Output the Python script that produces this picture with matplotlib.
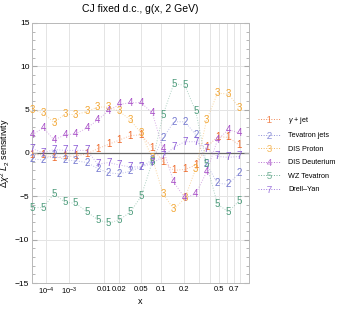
import numpy as np
import matplotlib
matplotlib.use('Agg')
import matplotlib.pyplot as plt
from matplotlib.lines import Line2D

plt.rcParams['font.family'] = ['Liberation Sans', 'DejaVu Sans']
plt.rcParams['mathtext.fontset'] = 'custom'
plt.rcParams['mathtext.rm'] = 'Liberation Sans'
plt.rcParams['mathtext.it'] = 'Liberation Sans:italic'

# x grid of the sensitivity points
x_pts = [1.05e-5, 6.6e-5, 2.5e-4, 7.3e-4, 1.7e-3, 3.7e-3, 7.0e-3, 0.0124, 0.0206, 0.0329,
         0.050, 0.075, 0.107, 0.150, 0.207, 0.279, 0.369, 0.482, 0.621, 0.79]

gamma_jet = [-0.2, -0.2, -0.6, -0.4, -0.35, -0.1, 0.5, 1.0, 1.5, 2.0,
             2.1, 0.6, -1.0, -2.0, -1.9, -1.4, 0.65, 1.9, 1.8, 0.9]
tev_jets = [-0.7, -0.8, -0.2, -0.8, -0.9, -1.1, -1.8, -2.3, -2.4, -2.1,
            -1.6, -0.8, 1.7, 3.6, 3.6, 2.1, -1.3, -3.5, -3.6, -2.3]
dis_proton = [5.0, 4.6, 3.5, 4.5, 4.4, 4.8, 5.3, 5.3, 4.8, 3.8,
              2.3, -0.6, -4.7, -6.5, -5.2, -1.8, 3.8, 6.9, 6.8, 5.2]
dis_deut = [2.1, 2.9, 1.5, 2.1, 2.2, 2.9, 3.8, 4.9, 5.6, 5.8,
            5.8, 4.6, 0.5, -3.4, -5.2, -4.7, -2.2, 1.5, 2.7, 2.3]
wz_tev = [-6.3, -6.3, -4.7, -5.7, -5.8, -6.8, -7.7, -8.1, -7.7, -6.8,
          -5.0, -1.0, 4.4, 8.0, 7.8, 4.8, -1.3, -5.9, -6.8, -5.5]
drell_yan = [0.5, 0.0, 0.4, 0.3, 0.3, 0.3, -1.3, -1.1, -1.4, -1.6,
             -1.6, -1.2, -0.4, 0.65, 1.3, 1.3, 0.5, -0.4, -0.5, -0.4]

series = [('1', gamma_jet, '$\\gamma$ + jet', '#ee6a2a'),
          ('2', tev_jets, 'Tevatron jets', '#7276cf'),
          ('3', dis_proton, 'DIS Proton', '#f2a531'),
          ('4', dis_deut, 'DIS Deuterium', '#a64bc6'),
          ('5', wz_tev, 'WZ Tevatron', '#4e9c7c'),
          ('7', drell_yan, 'Drell\u2013Yan', '#8a5ad6')]

x_ticks = [1e-4, 1e-3, 0.01, 0.02, 0.05, 0.1, 0.2, 0.5, 0.7]
x_tick_labels = ['$10^{-4}$', '$10^{-3}$', '0.01', '0.02', '0.05', '0.1', '0.2', '0.5', '0.7']
x_grid = [1e-4, 1e-3, 0.01, 0.02, 0.05, 0.1, 0.2, 0.3, 0.4, 0.5, 0.6, 0.7, 0.8]

fig = plt.figure(figsize=(3.42, 3.10), dpi=100)
ax = fig.add_axes([0.094, 0.087, 0.634, 0.839])

ax.set_xscale('function', functions=(lambda v: np.clip(v, 0, None) ** 0.2,
                                     lambda v: np.clip(v, 0, None) ** 5))
ax.set_xlim(1e-5, 0.97)
ax.set_ylim(-15, 15)

for xv in x_grid:
    ax.axvline(xv, color='#e4e4e4', lw=0.7, zorder=0)
for yv in [-10, -5, 5, 10]:
    ax.axhline(yv, color='#e4e4e4', lw=0.7, zorder=0)
ax.axhline(0, color='#666666', lw=0.9, zorder=1)

handles = []
for num, vals, label, col in series:
    ax.plot(x_pts, vals, ls=':', lw=0.7, color=col, alpha=0.45, zorder=2)
    for xv, yv in zip(x_pts, vals):
        ax.text(xv, yv, num, color=col, fontsize=7, ha='center', va='center', zorder=3)
    handles.append(Line2D([], [], ls=':', lw=0.7, color=col, alpha=0.8,
                          marker='$\\mathrm{%s}$' % num, markersize=5,
                          markeredgewidth=0, markerfacecolor=col))

ax.set_xticks(x_ticks)
ax.set_xticklabels(x_tick_labels)
ax.xaxis.set_minor_locator(matplotlib.ticker.NullLocator())
ax.tick_params(axis='x', length=0, labelsize=5.5, pad=2)
ax.set_yticks([-15, -10, -5, 0, 5, 10, 15])
ax.set_yticks(np.arange(-15, 16, 1), minor=True)
ax.tick_params(axis='y', which='both', direction='in', right=True, labelsize=6,
               color='#aaaaaa', pad=2)
ax.tick_params(axis='y', which='major', length=3.5)
ax.tick_params(axis='y', which='minor', length=2)
for s in ax.spines.values():
    s.set_color('#b8b8b8')
    s.set_linewidth(0.7)

ax.set_xlabel('x', fontsize=6.5, labelpad=0)
ax.set_ylabel('$\\Delta\\chi^2\\ L_2$ sensitivity', fontsize=6.5, labelpad=2)
ax.set_title('CJ fixed d.c., g(x, 2 GeV)', fontsize=7.5, pad=8)

fig.legend(handles, [s[2] for s in series], loc='center left',
           bbox_to_anchor=(0.735, 0.503), frameon=False, fontsize=5.2,
           handlelength=3.2, handletextpad=1.0, labelspacing=0.9, numpoints=1)

fig.savefig('out.png', dpi=100)
